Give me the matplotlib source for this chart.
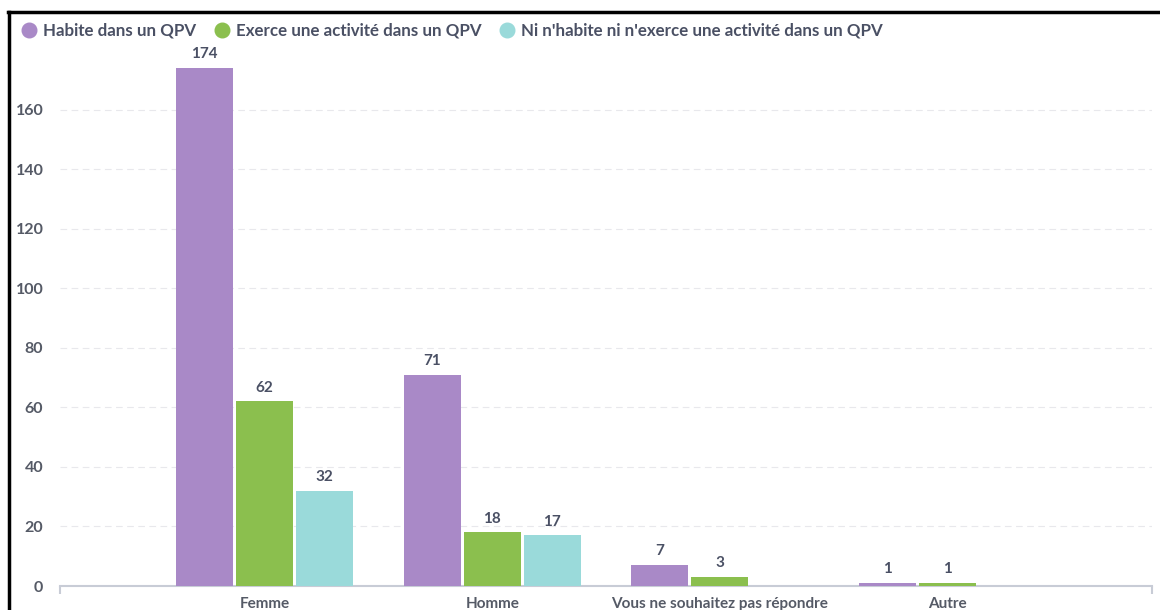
import numpy as np
import matplotlib.pyplot as plt
from matplotlib.lines import Line2D

# data
categories = ["Femme", "Homme", "Vous ne souhaitez pas répondre", "Autre"]
series_names = ["Habite dans un QPV", "Exerce une activité dans un QPV",
                "Ni n'habite ni n'exerce une activité dans un QPV"]
habite = [174, 71, 7, 1]
exerce = [62, 18, 3, 1]
ni_ni = [32, 17, 0, 0]
yticks = [0, 20, 40, 60, 80, 100, 120, 140, 160]

colors = ["#a989c7", "#8bbf4e", "#9adada"]
text_col = "#4a5064"
tick_col = "#555a66"

plt.rcParams['font.family'] = ['Lato', 'DejaVu Sans']

fig = plt.figure(figsize=(11.6, 6.1), dpi=100)
ax = fig.add_axes([60 / 1160, 1 - 586 / 610, 1092 / 1160, 536 / 610])

x = np.arange(len(categories))
width = 0.25
offset = 0.264
for i, (vals, name) in enumerate(zip([habite, exerce, ni_ni], series_names)):
    pos = x + (i - 1) * offset
    ax.bar(pos, vals, width, color=colors[i], label=name, zorder=3)
    for p, v in zip(pos, vals):
        if v > 0:
            ax.text(p, v + 2.3, str(v), ha='center', va='bottom', fontsize=11,
                    fontweight='bold', color=text_col)

ax.set_xlim(-0.9, 3.9)
ax.set_ylim(0, 180)
ax.set_yticks(yticks)
ax.set_xticks(x)
ax.set_xticklabels(categories)
ax.tick_params(axis='y', length=0, pad=12, labelsize=11.5, labelcolor=tick_col)
ax.tick_params(axis='x', length=0, pad=8, labelsize=11, labelcolor=tick_col)
for lab in ax.get_xticklabels() + ax.get_yticklabels():
    lab.set_fontweight('bold')

# end ticks on the x axis
ax.set_xticks([-0.9, 3.9], minor=True)
ax.tick_params(axis='x', which='minor', length=6, width=1.5, color='#c8ccd6')

for g in yticks[1:]:
    ax.axhline(g, color='#e8e8ec', linestyle=(0, (6, 4)), linewidth=0.8, zorder=1)

for s in ['top', 'right', 'left']:
    ax.spines[s].set_visible(False)
ax.spines['bottom'].set_color('#c8ccd6')
ax.spines['bottom'].set_linewidth(1.5)

leg = fig.legend(loc='upper left', bbox_to_anchor=(0.005, 0.988), ncol=3, frameon=False,
                 handlelength=0.9, handleheight=0.9, handletextpad=0.4, columnspacing=1.05,
                 fontsize=12.2)
for h in leg.legend_handles:
    h.set_visible(False)
for t in leg.get_texts():
    t.set_color(text_col)
    t.set_fontweight('bold')

# circular legend markers
fig.canvas.draw()
for h, c in zip(leg.legend_handles, colors):
    bb = h.get_window_extent()
    cx = (bb.x0 + bb.x1) / 2 / fig.bbox.width
    cy = (bb.y0 + bb.y1) / 2 / fig.bbox.height
    fig.add_artist(Line2D([cx], [cy], marker='o', markersize=10.5, color=c, linestyle='none'))

# frame lines
fig.add_artist(Line2D([8 / 1160, 1], [1 - 12 / 610, 1 - 12 / 610], color='black', linewidth=2.5))
fig.add_artist(Line2D([9 / 1160, 9 / 1160], [0, 1 - 12 / 610], color='black', linewidth=2.5))

fig.savefig("out.png", dpi=100)
